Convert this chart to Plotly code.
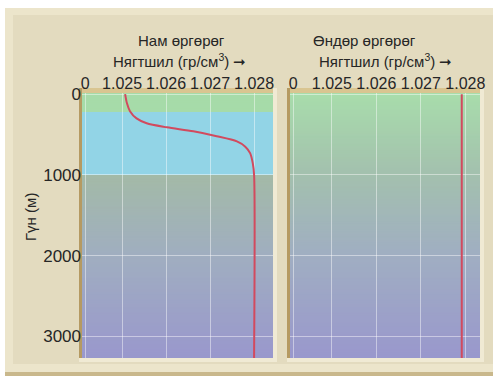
import numpy as np
import plotly.graph_objects as go

# density profile, low latitude (depth m, density g/cm3)
depth_low = [0, 110, 210, 300, 360, 410, 460, 520, 585, 650, 730, 855, 1000, 3270]
density_low = [1.02507, 1.02511, 1.02518, 1.02533, 1.02556, 1.02602, 1.02662,
               1.02715, 1.02761, 1.02780, 1.02791, 1.02797, 1.02800, 1.02800]

# high latitude: nearly uniform
depth_high = [0, 3270]
density_high = [1.02792, 1.02792]

x_ticks = [1.025, 1.026, 1.027, 1.028]
x_tick_labels = ['1.025', '1.026', '1.027', '1.028']
y_ticks = [0, 1000, 2000, 3000]
y_tick_labels = ['0', '1000', '2000', '3000']

# water layers in the low latitude panel (m)
mixed_layer = [-20, 220]
pycnocline = [220, 1000]

x_range_left = [1.02409, 1.02843]
x_range_right = [1.02406, 1.02833]
y_range = [3270, -15]

W, H = 493, 377
FONT = 'Liberation Sans, Arial, sans-serif'
TXT = '#262626'


def px(x):
    return x / W


def py(y):
    return 1 - y / H


def lerp_color(d, stops):
    for (d0, c0), (d1, c1) in zip(stops[:-1], stops[1:]):
        if d0 <= d <= d1 and d1 > d0:
            t = (d - d0) / (d1 - d0)
            c = [round(a + (b - a) * t) for a, b in zip(c0, c1)]
            return 'rgb(%d,%d,%d)' % tuple(c)
    return 'rgb(%d,%d,%d)' % stops[-1][1]


green = (166, 219, 169)
blue = (146, 212, 230)
left_stops = [(-20, green), (mixed_layer[1], green), (pycnocline[0], blue),
              (pycnocline[1], blue), (pycnocline[1], (163, 186, 167)),
              (2000, (160, 174, 192)), (3300, (153, 151, 205))]
right_stops = [(-20, (168, 221, 171)), (1000, (163, 192, 174)),
               (2000, (160, 174, 194)), (3300, (153, 151, 205))]

fig = go.Figure()

fig.add_trace(go.Scatter(x=density_low, y=depth_low, mode='lines',
                         line=dict(color='#d24a5e', width=2, shape='spline', smoothing=0.8),
                         xaxis='x', yaxis='y', hoverinfo='skip', showlegend=False))
fig.add_trace(go.Scatter(x=density_high, y=depth_high, mode='lines',
                         line=dict(color='#d24a5e', width=2),
                         xaxis='x2', yaxis='y2', hoverinfo='skip', showlegend=False))

shapes = []
# outer beige card
shapes.append(dict(type='rect', xref='paper', yref='paper', x0=px(5), x1=px(493),
                   y0=py(376), y1=py(8), fillcolor='#c9b88c', line_width=0, layer='below'))
shapes.append(dict(type='rect', xref='paper', yref='paper', x0=px(5), x1=px(493),
                   y0=py(372), y1=py(8), fillcolor='#ece5cb', line_width=0, layer='below'))
shapes.append(dict(type='rect', xref='paper', yref='paper', x0=px(13), x1=px(493),
                   y0=py(364), y1=py(15), fillcolor='#e3dbbf', line_width=0, layer='below'))

# panel frames (bevel)
for x0, x1 in [(82, 273), (290, 480)]:
    shapes.append(dict(type='rect', xref='paper', yref='paper', x0=px(x0 - 3), x1=px(x1 + 4),
                       y0=py(362), y1=py(88), fillcolor='#f0ead4', line_width=0, layer='below'))
    shapes.append(dict(type='rect', xref='paper', yref='paper', x0=px(x0 - 3), x1=px(x1),
                       y0=py(358), y1=py(88), fillcolor='#d9c591', line_width=0, layer='below'))
    shapes.append(dict(type='rect', xref='paper', yref='paper', x0=px(x0 - 3), x1=px(x0),
                       y0=py(358), y1=py(88), fillcolor='#b59a62', line_width=0, layer='below'))

# background gradient strips (each overlaps the next to avoid seams)
for xr, yr, stops in [('x domain', 'y', left_stops), ('x2 domain', 'y2', right_stops)]:
    edges = sorted(set(list(np.arange(-20, 3301, 20)) + [mixed_layer[1], pycnocline[1]]))
    for a, b in zip(edges[:-1], edges[1:]):
        a = max(a, y_range[1])
        b2 = min(b, y_range[0])
        if b2 <= a:
            continue
        mid = (a + b2) / 2
        bottom = b2 if b in (mixed_layer[1], pycnocline[1]) else min(b2 + 12, y_range[0])
        shapes.append(dict(type='rect', xref=xr, yref=yr, x0=0, x1=1, y0=a, y1=bottom,
                           fillcolor=lerp_color(mid, stops), line_width=0, layer='below'))

grid = 'rgba(255,255,255,0.45)'
xcommon = dict(side='top', showgrid=True, gridcolor=grid, automargin=False,
               gridwidth=1, zeroline=False, showline=False, ticks='',
               tickfont=dict(family=FONT, size=16, color=TXT))

fig.update_layout(
    width=W, height=H, margin=dict(l=0, r=0, t=0, b=0, pad=0, autoexpand=False),
    paper_bgcolor='white', plot_bgcolor='rgba(0,0,0,0)',
    shapes=shapes,
    xaxis=dict(xcommon, domain=[px(82), px(273)], range=x_range_left,
               tickvals=[x_range_left[0] + 0.00007] + x_ticks, ticktext=['0'] + x_tick_labels,
               anchor='y'),
    xaxis2=dict(xcommon, domain=[px(290), px(480)], range=x_range_right,
                tickvals=[x_range_right[0] + 0.00007] + x_ticks, ticktext=['0'] + x_tick_labels,
                anchor='y2'),
    yaxis=dict(domain=[py(358), py(93)], range=y_range, tickvals=y_ticks,
               ticktext=y_tick_labels, showgrid=True, gridcolor=grid, zeroline=False,
               automargin=False, ticks='',
               tickfont=dict(family=FONT, size=17, color=TXT), anchor='x'),
    yaxis2=dict(domain=[py(358), py(93)], range=y_range, tickvals=y_ticks,
                showticklabels=False, showgrid=True, gridcolor=grid, zeroline=False,
                automargin=False, ticks='', anchor='x2'),
    showlegend=False,
)

ann = [
    ('Нам өргөрөг', 181, 40, 0),
    ('Нягтшил (гр/см<sup>3</sup>) ➞', 179, 60, 0),
    ('Өндөр өргөрөг', 364, 40, 0),
    ('Нягтшил (гр/см<sup>3</sup>) ➞', 385, 60, 0),
    ('Гүн (м)', 30, 217, -90),
]
for text, x, y, rot in ann:
    fig.add_annotation(text=text, x=px(x), y=py(y), xref='paper', yref='paper',
                       showarrow=False, textangle=rot, xanchor='center', yanchor='middle',
                       font=dict(family=FONT, size=15, color=TXT))

fig.write_html("out.html", config={'displayModeBar': False},
               post_script="document.body.style.margin='0px';")
